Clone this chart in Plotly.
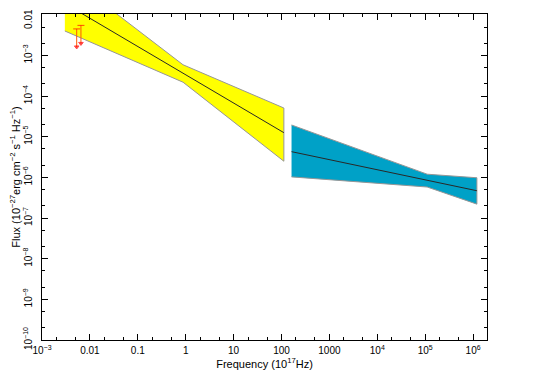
import plotly.graph_objects as go

# optical/UV power-law bowtie (freq in 1e17 Hz, flux in 1e-27 erg/cm2/s/Hz)
opt_freq = [0.0030, 0.88, 112]
opt_upper = [0.10, 5.9e-4, 5.1e-5]
opt_lower = [4.0e-3, 2.2e-4, 2.5e-6]
opt_model_freq = [0.0030, 112]
opt_model_flux = [0.019, 1.26e-5]

# X-ray bowtie
xr_freq = [162, 1.1e5, 1.2e6]
xr_upper = [1.95e-5, 1.2e-6, 9.8e-7]
xr_lower = [1.03e-6, 5.8e-7, 2.2e-7]
xr_model_freq = [162, 1.2e6]
xr_model_flux = [4.3e-6, 4.7e-7]

# upper limits
ul_freq = [0.0053, 0.0065]
ul_flux = [4.5e-3, 5.5e-3]

xtick_vals = [1e-3, 1e-2, 1e-1, 1, 10, 100, 1000, 1e4, 1e5, 1e6]
xtick_text = ["10<sup>−3</sup>", "0.01", "0.1", "1", "10", "100", "1000",
              "10<sup>4</sup>", "10<sup>5</sup>", "10<sup>6</sup>"]
ytick_vals = [1e-10, 1e-9, 1e-8, 1e-7, 1e-6, 1e-5, 1e-4, 1e-3, 1e-2]
ytick_text = ["10<sup>−10</sup>", "10<sup>−9</sup>", "10<sup>−8</sup>", "10<sup>−7</sup>",
              "10<sup>−6</sup>", "10<sup>−5</sup>", "10<sup>−4</sup>", "10<sup>−3</sup>", "0.01"]

fig = go.Figure()


def band(freq, upper, lower, color):
    fig.add_trace(go.Scatter(
        x=freq + freq[::-1], y=upper + lower[::-1],
        fill='toself', fillcolor=color, mode='lines',
        line=dict(color='rgb(150,150,150)', width=1),
        hoverinfo='skip'))


band(opt_freq, opt_upper, opt_lower, 'rgb(255,255,0)')
band(xr_freq, xr_upper, xr_lower, 'rgb(0,161,199)')

for fx, fy in [(opt_model_freq, opt_model_flux), (xr_model_freq, xr_model_flux)]:
    fig.add_trace(go.Scatter(x=fx, y=fy, mode='lines',
                             line=dict(color='rgb(40,40,40)', width=1)))

for f, v in zip(ul_freq, ul_flux):
    fig.add_trace(go.Scatter(
        x=[f, f], y=[v, v * 0.36], mode='lines+markers',
        line=dict(color='rgb(255,90,0)', width=1),
        marker=dict(symbol=['line-ew', 'triangle-down'], size=[5, 4],
                    color='red', line=dict(color='red', width=1))))

axis_common = dict(
    type='log', showline=True, linecolor='black', linewidth=1, mirror='ticks',
    ticks='inside', ticklen=6, tickcolor='black', showgrid=False, zeroline=False,
    automargin=False,
    tickfont=dict(family='Liberation Sans', size=10, color='black'),
    minor=dict(ticks='inside', ticklen=3, tickcolor='black', showgrid=False),
)

# top y label would be cut at the page edge: draw it as an annotation nudged down
fig.add_annotation(text=ytick_text[-1], xref='paper', x=-0.029, yref='y',
                   y=-2, yshift=-4, textangle=-90, showarrow=False,
                   xanchor='center', yanchor='middle',
                   font=dict(family='Liberation Sans', size=10, color='black'))

# page body adds an 8px offset, so the figure is 8px smaller and shifted
fig.update_layout(
    width=534, height=374,
    margin=dict(l=34, r=55, t=6, b=42),
    paper_bgcolor='white', plot_bgcolor='white',
    showlegend=False,
    font=dict(family='Liberation Sans', size=10, color='black'),
    xaxis=dict(axis_common, range=[-3, 6.29], tickvals=xtick_vals, ticktext=xtick_text,
               ticklabelstandoff=1,
               title=dict(text='Frequency (10<sup>17</sup>Hz)', standoff=4,
                          font=dict(size=11))),
    yaxis=dict(axis_common, range=[-10, -1.98], tickvals=ytick_vals,
               ticktext=ytick_text[:-1] + [""],
               tickangle=-90, ticklabelstandoff=5,
               title=dict(text='Flux (10<sup>−27</sup>erg cm<sup>−2</sup> s<sup>−1</sup> Hz<sup>−1</sup>)',
                          standoff=2, font=dict(size=11))),
)

fig.write_html("out.html")
